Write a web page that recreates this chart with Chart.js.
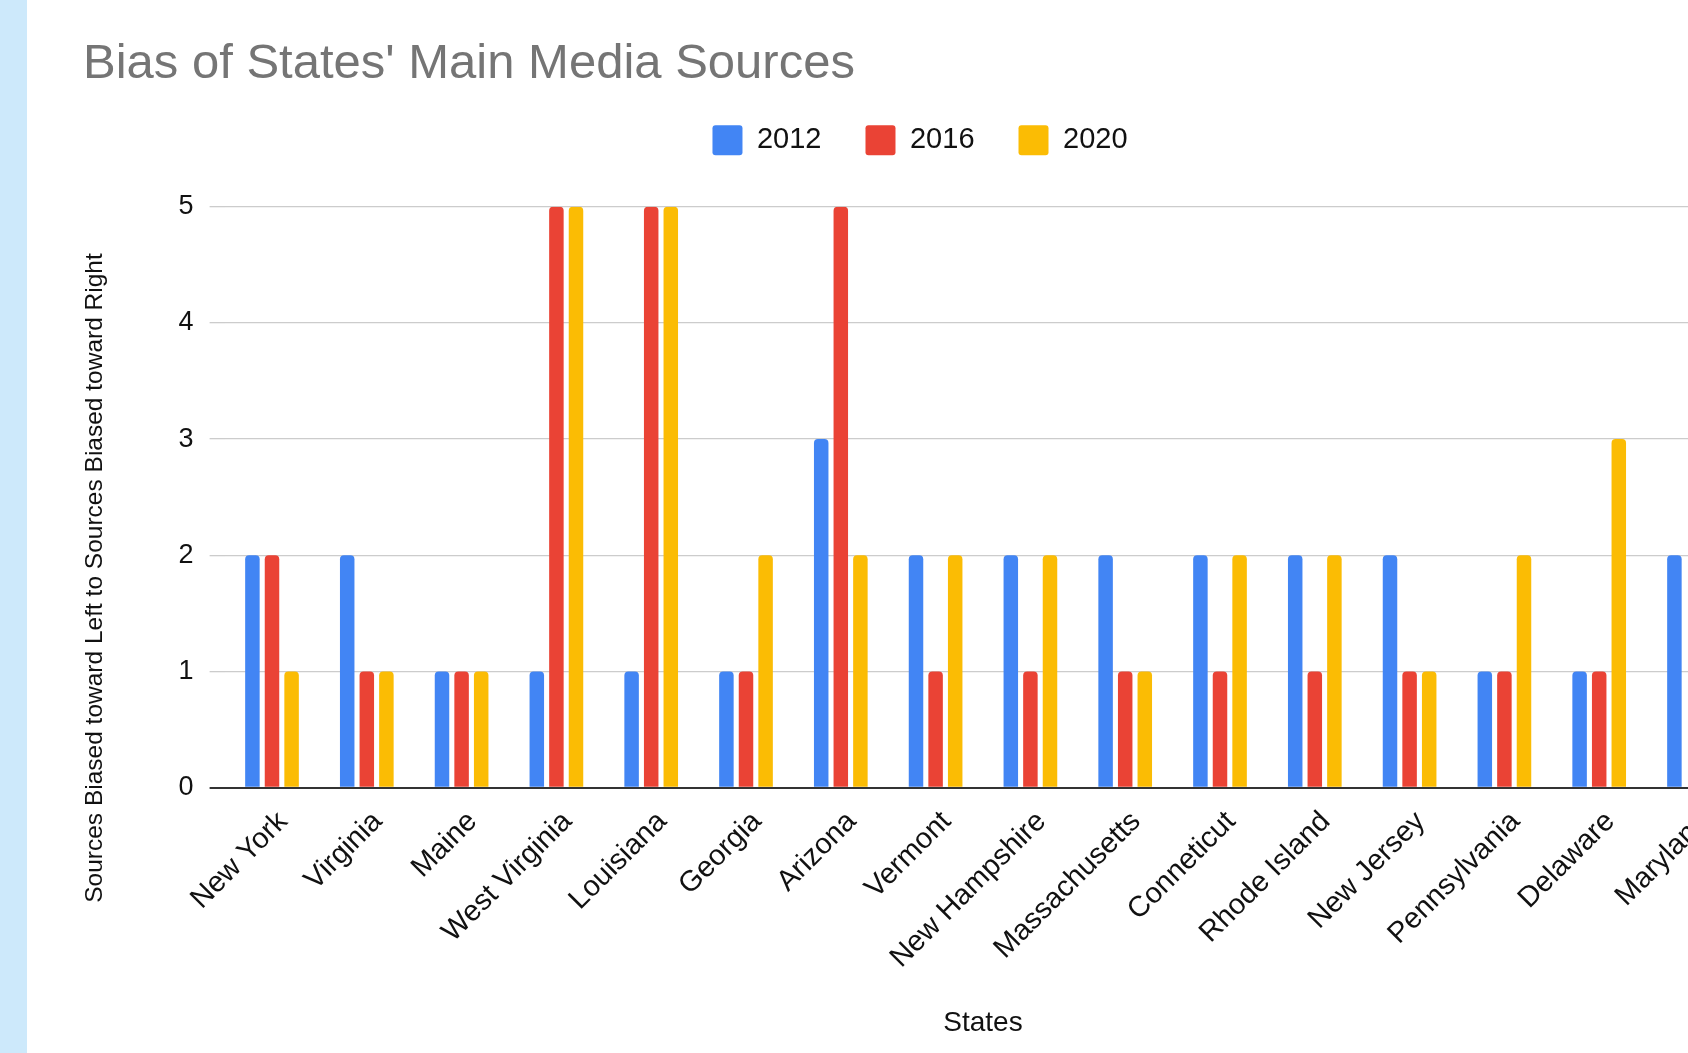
<!DOCTYPE html>
<html>
<head>
<meta charset="utf-8">
<script src="https://cdn.jsdelivr.net/npm/chart.js@4"></script>
<style>
  html, body { margin: 0; padding: 0; width: 1688px; height: 1053px; overflow: hidden; background: #fff; }
  #strip { position: absolute; left: 0; top: 0; width: 27px; height: 1053px; background: #cde9fb; }
  #chart { position: absolute; left: 83px; top: 0; }
</style>
</head>
<body>
<div id="strip"></div>
<canvas id="chart" width="1674" height="1053"></canvas>
<script>
const states = ["New York", "Virginia", "Maine", "West Virginia", "Louisiana", "Georgia", "Arizona",
  "Vermont", "New Hampshire", "Massachusetts", "Conneticut", "Rhode Island", "New Jersey",
  "Pennsylvania", "Delaware", "Maryland"];
const bias2012 = [2, 2, 1, 1, 1, 1, 3, 2, 2, 2, 2, 2, 2, 1, 1, 2];
const bias2016 = [2, 1, 1, 5, 5, 1, 5, 1, 1, 1, 1, 1, 1, 1, 1, null];
const bias2020 = [1, 1, 1, 5, 5, 2, 2, 2, 2, 1, 2, 2, 1, 2, 3, null];

const FONT = "'Liberation Sans', Arial, sans-serif";

// vertical axis title sits lower than the plot centre, so it is drawn by hand
const yTitle = {
  id: "yTitle",
  afterDraw(chart) {
    const ctx = chart.ctx;
    ctx.save();
    ctx.translate(12, 578);
    ctx.rotate(-Math.PI / 2);
    ctx.font = "24.5px " + FONT;
    ctx.fillStyle = "#111";
    ctx.textAlign = "center";
    ctx.textBaseline = "middle";
    ctx.fillText("Sources Biased toward Left to Sources Biased toward Right", 0, 0);
    ctx.restore();
  }
};

// extra room between the legend and the plot
const legendGap = {
  id: "legendGap",
  beforeInit(chart) {
    const fit = chart.legend.fit;
    chart.legend.fit = function () {
      fit.call(this);
      this.height += 41.5;
    };
  }
};

new Chart(document.getElementById("chart"), {
  type: "bar",
  data: {
    labels: states,
    datasets: [
      { label: "2012", data: bias2012, backgroundColor: "#4285F4" },
      { label: "2016", data: bias2016, backgroundColor: "#EA4335" },
      { label: "2020", data: bias2020, backgroundColor: "#FBBC04" }
    ]
  },
  options: {
    responsive: false,
    devicePixelRatio: 1,
    animation: false,
    layout: { padding: 0 },
    datasets: {
      bar: {
        categoryPercentage: 0.62,
        barPercentage: 0.74,
        borderRadius: 4,
        borderSkipped: "start"
      }
    },
    plugins: {
      title: {
        display: true,
        text: "Bias of States' Main Media Sources",
        align: "start",
        color: "#757575",
        font: { family: FONT, size: 49, weight: "normal", lineHeight: 0.678 },
        padding: { top: 48, bottom: 0 }
      },
      legend: {
        position: "top",
        labels: {
          boxWidth: 30,
          boxHeight: 30,
          padding: 44,
          color: "#111",
          useBorderRadius: true,
          borderRadius: 3,
          font: { family: FONT, size: 29 }
        }
      },
      tooltip: { enabled: false }
    },
    scales: {
      x: {
        grid: { display: false, drawTicks: false },
        border: { display: false },
        ticks: {
          autoSkip: false,
          minRotation: 45,
          maxRotation: 45,
          padding: 17,
          labelOffset: 11,
          color: "#111",
          font: { family: FONT, size: 29 }
        },
        title: {
          display: true,
          text: "States",
          color: "#111",
          font: { family: FONT, size: 28 },
          padding: { top: 0, bottom: 13 }
        },
        afterFit(scale) { scale.height = 265.3; }
      },
      y: {
        min: 0,
        max: 5,
        border: { display: false },
        grid: {
          color: c => c.tick.value === 0 ? "#333" : "#ccc",
          lineWidth: c => c.tick.value === 0 ? 2 : 1.3,
          tickLength: 15,
          drawTicks: true
        },
        ticks: {
          stepSize: 1,
          padding: 16,
          color: "#111",
          font: { family: FONT, size: 27 }
        },
        afterFit(scale) { scale.width = 141.6; }
      },
      yRight: {
        position: "right",
        grid: { display: false, drawTicks: false },
        border: { display: false },
        ticks: { display: false },
        afterFit(scale) { scale.width = 15.6; }
      }
    }
  },
  plugins: [yTitle, legendGap]
});
</script>
</body>
</html>
